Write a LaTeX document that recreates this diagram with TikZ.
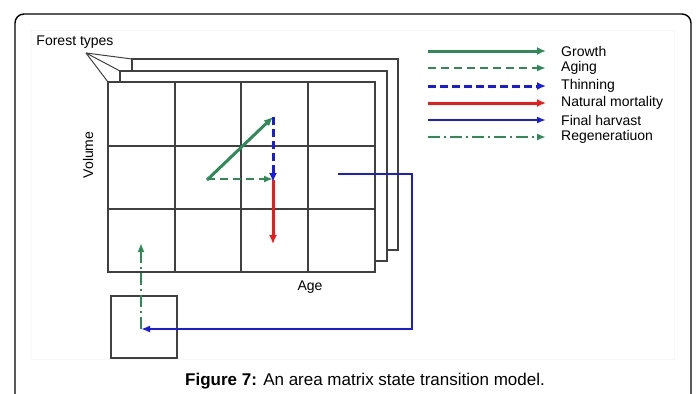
\documentclass[tikz,border=0pt]{standalone}
\usepackage{fontspec}
\setmainfont{Liberation Sans}
\usepackage{tikz}
\usetikzlibrary{arrows.meta,positioning}
\definecolor{FrameGray}{HTML}{404040}
\definecolor{GrowGreen}{HTML}{2E8B57}
\definecolor{CutBlue}{HTML}{1A1AE6}
\definecolor{DieRed}{HTML}{F01818}
\definecolor{PanelGray}{HTML}{F7F7F7}

\begin{document}
\begin{tikzpicture}[x=1pt,y=-1pt,
  lab/.style={font=\fontsize{14}{16}\selectfont,inner sep=0pt},
  layer/.style={draw=FrameGray,line width=1.4pt,fill=white},
  cell/.style={draw=FrameGray,line width=1.4pt},
  growth/.style={-{Latex[length=9pt,width=8pt]},GrowGreen,line width=3pt},
  aging/.style={-{Latex[length=9pt,width=7pt]},GrowGreen,line width=2.4pt,dash pattern=on 8pt off 5pt},
  thinning/.style={-{Latex[length=9pt,width=8pt]},CutBlue,line width=3pt,dash pattern=on 8pt off 4pt},
  mortality/.style={-{Latex[length=9pt,width=8pt]},DieRed,line width=3pt},
  harvest/.style={-{Latex[length=9pt,width=7pt]},CutBlue,line width=2.4pt},
  regen/.style={-{Latex[length=9pt,width=7pt]},GrowGreen,line width=2.6pt,dash pattern=on 12pt off 4pt on 2pt off 4pt}
]
\useasboundingbox (0,0) rectangle (697,394);
% frame and panel
\draw[draw=PanelGray,line width=1pt] (31,30) rectangle (674,359);
\draw[line width=1.4pt,rounded corners=9pt] (15,400) |- (691,14) -- (691,400);

% stacked matrices, one per forest type
\draw[layer] (132,59) rectangle (398,250);
\draw[layer] (120,71) rectangle (387,261);
\draw[layer] (108,82) rectangle (375,272);
\foreach \x in {175,241,308} \draw[cell] (\x,82) -- (\x,272);
\foreach \y in {146,209} \draw[cell] (108,\y) -- (375,\y);

\node[lab] (forest) at (75,42) {Forest types};
\coordinate (tip) at (86,53);
\draw[FrameGray,line width=1pt] (tip) -- (132,59);
\draw[FrameGray,line width=1pt] (tip) -- (120,71);
\draw[FrameGray,line width=1pt] (tip) -- (108,82);

\node[lab,rotate=90] (volume) at (88,155) {Volume};
\node[lab] (age) at (310,287) {Age};

% transitions
\coordinate (young) at (207,180);
\coordinate (grown) at (273,117);
\coordinate (older) at (273,180);
\coordinate (dead) at (273,244);
\coordinate (cutfrom) at (338,174);
\coordinate (cutturn) at (412,174);
\draw[growth] (young) -- (grown);
\draw[aging] ([yshift=1pt]young) -- ([yshift=1pt]older);
\draw[thinning] (grown) -- ([yshift=-2pt]older);
\draw[mortality] (older) -- (dead);

\node[draw=FrameGray,line width=1.4pt,minimum width=66pt,minimum height=62pt,inner sep=0pt] (bare) at (144,327) {};
\coordinate (regenfrom) at (141,329);
\coordinate (regento) at (141,243);
\draw[harvest] (cutfrom) -- (cutturn) |- (regenfrom);
\draw[regen] (regenfrom) -- (regento);

% legend
\node[lab,anchor=west] (lgrowth) at (561,51) {Growth};
\node[lab,anchor=west] (laging) at (561,68) {Aging};
\node[lab,anchor=west] (lthin) at (561,86) {Thinning};
\node[lab,anchor=west] (lmort) at (561,103) {Natural mortality};
\node[lab,anchor=west] (lharv) at (561,120) {Final harvast};
\node[lab,anchor=west] (lregen) at (561,137) {Regeneratiuon};
\draw[growth] ([xshift=-133pt]lgrowth.west) -- ([xshift=-15pt]lgrowth.west);
\draw[aging] ([xshift=-133pt]laging.west) -- ([xshift=-15pt]laging.west);
\draw[thinning] ([xshift=-133pt]lthin.west) -- ([xshift=-15pt]lthin.west);
\draw[mortality] ([xshift=-133pt]lmort.west) -- ([xshift=-15pt]lmort.west);
\draw[harvest] ([xshift=-133pt]lharv.west) -- ([xshift=-15pt]lharv.west);
\draw[regen] ([xshift=-133pt]lregen.west) -- ([xshift=-15pt]lregen.west);

\node[font=\fontsize{17}{20}\selectfont,inner sep=0pt] (caption) at (365,381) {\textbf{Figure 7:} An area matrix state transition model.};
\end{tikzpicture}
\end{document}
